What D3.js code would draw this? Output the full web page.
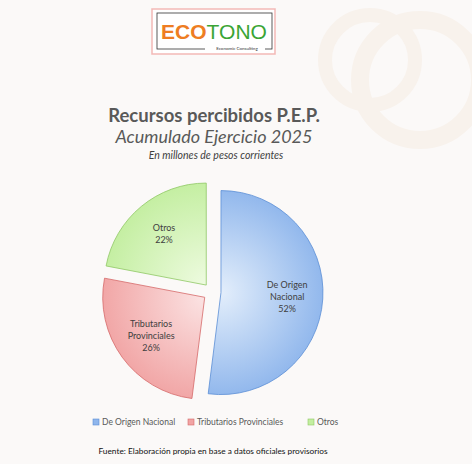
<!DOCTYPE html><html><head><meta charset="utf-8"><script src="https://cdn.jsdelivr.net/npm/d3@7"></script>
<style>body{margin:0;background:#fff}svg{font-family:Lato,"Open Sans",sans-serif}</style></head><body>
<svg id="c" width="472" height="464"></svg>
<script>
const categories=["De Origen Nacional","Tributarios Provinciales","Otros"];
const shares=[52,26,22];
const labelLines=[["De Origen","Nacional"],["Tributarios","Provinciales"],["Otros"]];
const colors=[["#e3eefb","#8fb6ec","#5a8ed6"],["#fbe3e3","#f1a4a4","#d56a6a"],["#eefbe0","#c3eea0","#8fc865"]];
const svg=d3.select("#c");
svg.append("rect").attr("width",472).attr("height",464).attr("fill","#fbf9f8");
svg.append("circle").attr("cx",420).attr("cy",80).attr("r",60).attr("fill","none").attr("stroke","#f8f2ec").attr("stroke-width",18);
svg.append("circle").attr("cx",370).attr("cy",60).attr("r",45).attr("fill","none").attr("stroke","#f8f2ec").attr("stroke-width",14);
const defs=svg.append("defs");
colors.forEach((c,i)=>{const g=defs.append("radialGradient").attr("id","g"+i).attr("gradientUnits","userSpaceOnUse").attr("cx",0).attr("cy",0).attr("r",106);
g.append("stop").attr("offset","0%").attr("stop-color",c[0]);g.append("stop").attr("offset","100%").attr("stop-color",c[1]);});
const lg=svg.append("g");
lg.append("rect").attr("x",152).attr("y",9).attr("width",123).attr("height",45).attr("fill","#fff").attr("stroke","#f3b9b6").attr("stroke-width",1.5);
lg.append("rect").attr("x",157).attr("y",13).attr("width",115).attr("height",36).attr("fill","none").attr("stroke","#333").attr("stroke-width",0.8);
lg.append("rect").attr("x",205).attr("y",44).attr("width",60).attr("height",8).attr("fill","#fff");
const t=lg.append("text").attr("x",214).attr("y",39).attr("text-anchor","middle").attr("font-size",21).attr("font-family","Liberation Sans, sans-serif");
t.append("tspan").text("ECO").attr("fill","#ee7d22").attr("font-weight","bold");
t.append("tspan").text("TONO").attr("fill","#3aa535");
lg.append("text").attr("x",237).attr("y",50).attr("text-anchor","middle").attr("font-size",4.5).attr("fill","#333").text("Economic Consulting");
svg.append("text").attr("x",214).attr("y",122).attr("text-anchor","middle").attr("font-size",18.5).attr("font-weight","bold").attr("fill","#595959").text("Recursos percibidos P.E.P.");
svg.append("text").attr("x",214).attr("y",143).attr("text-anchor","middle").attr("font-size",18).attr("font-style","italic").attr("fill","#595959").text("Acumulado Ejercicio 2025");
svg.append("text").attr("x",216).attr("y",159).attr("text-anchor","middle").attr("font-size",10.5).attr("font-style","italic").attr("fill","#404040").text("En millones de pesos corrientes");
const cx=212,cy=292,R=102,ex=9;
const pie=d3.pie().sort(null).value(d=>d)(shares);
const arc=d3.arc().innerRadius(0).outerRadius(R);
const la=d3.arc().innerRadius(R*0.58).outerRadius(R*0.72);
pie.forEach((p,i)=>{const m=(p.startAngle+p.endAngle)/2;const dx=Math.sin(m)*ex,dy=-Math.cos(m)*ex;
const g=svg.append("g").attr("transform",`translate(${cx+dx},${cy+dy})`);
g.append("path").attr("d",arc(p)).attr("fill",`url(#g${i})`).attr("stroke",colors[i][2]).attr("stroke-width",0.8);
const [lx,ly]=la.centroid(p);const lines=labelLines[i].concat([shares[i]+"%"]);
const tx=g.append("text").attr("text-anchor","middle").attr("font-size",9).attr("fill","#404040");
lines.forEach((s,k)=>tx.append("tspan").attr("x",lx).attr("y",ly+(k-(lines.length-1)/2)*12+3).text(s));});
const lx=[93,188,308];
categories.forEach((c,i)=>{svg.append("rect").attr("x",lx[i]).attr("y",419).attr("width",6).attr("height",6).attr("fill",colors[i][1]).attr("stroke",colors[i][2]).attr("stroke-width",0.6);
svg.append("text").attr("x",lx[i]+9).attr("y",425).attr("font-size",8.5).attr("fill","#595959").text(c);});
svg.append("text").attr("x",213).attr("y",454).attr("text-anchor","middle").attr("font-size",8.3).attr("fill","#111").text("Fuente: Elaboración propia en base a datos oficiales provisorios");
</script></body></html>
